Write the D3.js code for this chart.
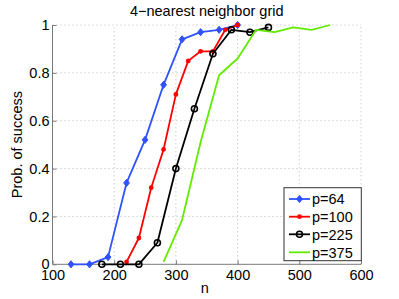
<!DOCTYPE html>
<html><head><meta charset="utf-8">
<script src="https://cdn.jsdelivr.net/npm/d3@7"></script>
<style>body{margin:0;background:#fff;} text{font-family:"Liberation Sans",Arial,sans-serif;}</style>
</head><body>
<svg id="c" width="399" height="299"></svg>
<script>
const title = "4\u2212nearest neighbor grid";
const xLabel = "n";
const yLabel = "Prob. of success";
const xTicks = [100, 200, 300, 400, 500, 600];
const yTicks = [0, 0.2, 0.4, 0.6, 0.8, 1];
const yTickLabels = ["0", "0.2", "0.4", "0.6", "0.8", "1"];
const seriesNames = ["p=64", "p=100", "p=225", "p=375"];
const nP64 = [130,160,190,220,250,280,310,340,370,400];
const vP64 = [0,0,0.03,0.34,0.52,0.75,0.94,0.97,0.98,1.0];
const nP100 = [220,240,260,280,300,320,340,360,380,400];
const vP100 = [0.01,0.11,0.32,0.48,0.71,0.85,0.89,0.89,0.98,1.0];
const nP225 = [180,210,240,270,300,330,360,390,420,450];
const vP225 = [0,0,0,0.09,0.40,0.65,0.88,0.98,0.97,0.99];
const nP375 = [280,310,340,370,400,430,460,490,520,550];
const vP375 = [0.01,0.185,0.51,0.79,0.86,0.98,0.97,0.99,0.98,1.0];

const colors = ["#2f52ff", "#ff0000", "#000000", "#62ea00"];
const markers = ["diamond", "dot", "circle", "none"];
const series = [
  {name: seriesNames[0], n: nP64, v: vP64},
  {name: seriesNames[1], n: nP100, v: vP100},
  {name: seriesNames[2], n: nP225, v: vP225},
  {name: seriesNames[3], n: nP375, v: vP375}
];

const svg = d3.select("#c");
const L = 52.5, R = 361, T = 25, B = 264.3;
const x = d3.scaleLinear().domain([100, 600]).range([L, R]);
const y = d3.scaleLinear().domain([0, 1]).range([B, T]);

// grid
const g = svg.append("g");
g.selectAll(".gx").data(xTicks.slice(1)).enter().append("line")
  .attr("x1", d => x(d)).attr("x2", d => x(d)).attr("y1", B).attr("y2", T)
  .attr("stroke", "#b8b8b8").attr("stroke-width", 1).attr("stroke-dasharray", "1,3");
g.selectAll(".gy").data(yTicks.slice(1)).enter().append("line")
  .attr("y1", d => y(d)).attr("y2", d => y(d)).attr("x1", L).attr("x2", R)
  .attr("stroke", "#b8b8b8").attr("stroke-width", 1).attr("stroke-dasharray", "1,3");

// axes
const xAxis = d3.axisBottom(x).tickValues(xTicks).tickSize(-4).tickPadding(7).tickFormat(d3.format("d"));
const yAxis = d3.axisLeft(y).tickValues(yTicks).tickSize(-4).tickPadding(3).tickFormat((d, i) => yTickLabels[i]);
const ax = svg.append("g").attr("transform", `translate(0,${B})`).call(xAxis);
const ay = svg.append("g").attr("transform", `translate(${L},0)`).call(yAxis);
[ax, ay].forEach(a => {
  a.select(".domain").attr("stroke", "#7a7a7a").attr("stroke-width", 1);
  a.selectAll(".tick line").attr("stroke", "#7a7a7a");
  a.selectAll(".tick text").attr("fill", "#000").style("font-size", "14.5px").style("font-family", "'Liberation Sans',Arial,sans-serif");
});
ax.selectAll(".tick text").attr("dy", "0.6em");
ax.select(".domain").attr("d", `M${L},0H${R}`);
ay.select(".domain").attr("d", `M0,${B}V${T}`);

// lines
const line = d3.line().x(d => x(d[0])).y(d => y(d[1]));
function drawMarker(sel, type, color, cx, cy, scale) {
  scale = scale || 1;
  if (type === "diamond") {
    const s = 3.6 * scale;
    sel.append("path").attr("d", `M${cx},${cy - s}L${cx + s * 0.8},${cy}L${cx},${cy + s}L${cx - s * 0.8},${cy}Z`)
      .attr("fill", color).attr("stroke", color).attr("stroke-width", 1);
  } else if (type === "dot") {
    sel.append("circle").attr("cx", cx).attr("cy", cy).attr("r", 2.4 * scale).attr("fill", color);
  } else if (type === "circle") {
    sel.append("circle").attr("cx", cx).attr("cy", cy).attr("r", 3 * scale).attr("fill", "none")
      .attr("stroke", color).attr("stroke-width", 1.6);
  }
}
const plot = svg.append("g");
series.forEach((s, i) => {
  const pts = s.n.map((n, j) => [n, s.v[j]]);
  plot.append("path").attr("d", line(pts)).attr("fill", "none")
    .attr("stroke", colors[i]).attr("stroke-width", 1.8).attr("stroke-linejoin", "round");
  pts.forEach(p => drawMarker(plot, markers[i], colors[i], x(p[0]), y(p[1])));
});

// title & labels
svg.append("text").attr("x", (L + R) / 2).attr("y", 15.5).attr("text-anchor", "middle")
  .style("font-size", "14.5px").text(title);
svg.append("text").attr("x", (L + R) / 2 - 2).attr("y", 293).attr("text-anchor", "middle")
  .style("font-size", "14.5px").text(xLabel);
svg.append("text").attr("transform", `translate(22,${(T + B) / 2}) rotate(-90)`).attr("text-anchor", "middle")
  .style("font-size", "14.5px").text(yLabel);

// legend
const lg = svg.append("g");
const lx0 = 284, ly0 = 187.7, lw = 77.3, lh = 73;
lg.append("rect").attr("x", lx0).attr("y", ly0).attr("width", lw).attr("height", lh)
  .attr("fill", "#fff").attr("stroke", "#333").attr("stroke-width", 1);
const rowY = [199, 216.7, 234.3, 252.3];
series.forEach((s, i) => {
  lg.append("line").attr("x1", 289).attr("x2", 310).attr("y1", rowY[i]).attr("y2", rowY[i])
    .attr("stroke", colors[i]).attr("stroke-width", 1.8);
  drawMarker(lg, markers[i], colors[i], 299.5, rowY[i]);
  lg.append("text").attr("x", 312).attr("y", rowY[i]).attr("dy", "0.36em")
    .style("font-size", "14.5px").text(s.name);
});
</script>
</body></html>
